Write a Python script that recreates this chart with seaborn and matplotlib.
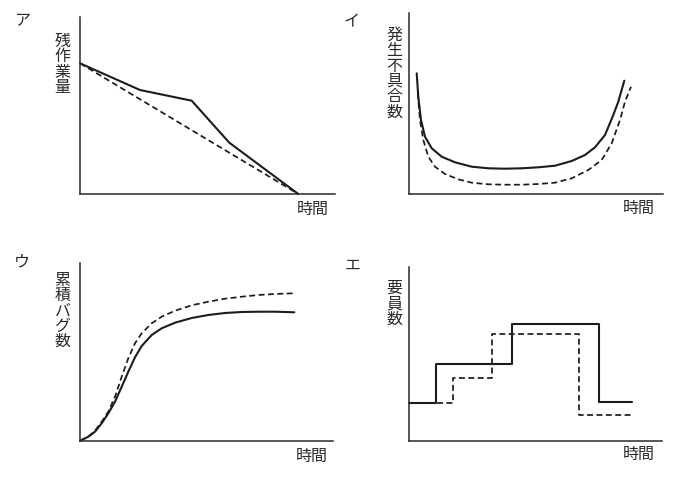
import matplotlib
matplotlib.use("Agg")
import matplotlib.pyplot as plt
import seaborn as sns

sns.set_theme(style="white")
plt.rcParams['font.family'] = ['Noto Sans CJK JP', 'DejaVu Sans']

# ---------------- data (arbitrary units) ----------------
# ア 残作業量
a_x_actual = [0, 60, 111.7, 149.3, 218.3]
a_y_actual = [130.7, 104, 93.3, 51.3, 0]
a_x_plan = [0, 218.3]
a_y_plan = [130.7, 0]

# イ 発生不具合数
b_x_solid = [7.7, 9.3, 12, 16, 22.7, 32.7, 46, 62.7, 79.3, 96, 112.7, 129.3,
             146, 162.7, 176, 186, 196, 204.3, 209.3, 215.3]
b_y_solid = [120.7, 97.3, 74, 57.3, 45.7, 37.3, 31.7, 27.3, 25.7, 25.3, 25.7,
             26.7, 28.3, 33, 39, 46.7, 59, 79, 92.3, 113.3]
b_x_dash = [8.7, 11, 14.3, 19.3, 26, 36, 49.3, 62.7, 79.3, 96, 112.7, 129.3,
            146, 162.7, 179.3, 192.7, 202.7, 211, 216, 222]
b_y_dash = [100.7, 74, 54, 37.3, 27.3, 20, 14.7, 11.3, 9.7, 9.3, 9.3, 10,
            11.3, 15.7, 24, 34, 50.7, 74, 92.3, 107.3]

# ウ 累積バグ数
c_x = [0, 1.7, 8.3, 15, 21.7, 28.3, 35, 41.7, 48.3, 55, 61.7, 71.7, 81.7, 95,
       111.7, 128.3, 145, 161.7, 178.3, 195, 214.3]
c_y_solid = [0, 1, 4.3, 9.3, 17.7, 27.7, 39.3, 54.3, 69.3, 83.7, 95, 106, 112.7,
             118.3, 123, 126, 128, 129, 129.3, 129.3, 128.7]
c_y_dash = [0, 1, 4.3, 10.3, 19.3, 29.3, 44.3, 64.3, 82.7, 97.7, 107.7, 117.7,
            124.3, 130.3, 135.7, 139.3, 142.3, 144.3, 146, 147, 147.7]

# エ 要員数 (step breakpoints)
d_x_solid = [0, 27, 103, 190, 223]
d_y_solid = [38.3, 77, 116.7, 39.3, 39.3]
d_x_dash = [0, 44, 83, 170, 223]
d_y_dash = [38.3, 63.3, 107.3, 26, 26]

panel_marks = ["ア", "イ", "ウ", "エ"]
y_labels = ["残作業量", "発生不具合数", "累積バグ数", "要員数"]
x_label = "時間"

# ---------------- layout ----------------
W, H = 685, 478
fig = plt.figure(figsize=(W / 100, H / 100), dpi=100)
fig.patch.set_facecolor("white")

# axes boxes in pixels: (x0, x1, ytop, ybot)
boxes = [(80, 335, 17, 194), (409, 663, 13, 194),
         (80, 333, 263, 441), (409, 662, 267, 441)]
axes = []
for (x0, x1, yt, yb) in boxes:
    ax = fig.add_axes([x0 / W, (H - yb) / H, (x1 - x0) / W, (yb - yt) / H])
    ax.set_xlim(0, x1 - x0)
    ax.set_ylim(0, yb - yt)
    ax.set_xticks([])
    ax.set_yticks([])
    for s in ["top", "right"]:
        ax.spines[s].set_visible(False)
    for s in ["left", "bottom"]:
        ax.spines[s].set_color("#2a2a2a")
        ax.spines[s].set_linewidth(1.1)
    ax.set_facecolor("white")
    axes.append(ax)

LC = "#1c1c1c"
solid_kw = dict(color=LC, linewidth=1.5, estimator=None, sort=False, clip_on=False)
dash_kw = dict(color=LC, linewidth=1.25, linestyle=(0, (3.4, 2.0)),
               estimator=None, sort=False, clip_on=False)

sns.lineplot(x=a_x_plan, y=a_y_plan, ax=axes[0], **dash_kw)
sns.lineplot(x=a_x_actual, y=a_y_actual, ax=axes[0], **solid_kw)

sns.lineplot(x=b_x_dash, y=b_y_dash, ax=axes[1], **dash_kw)
sns.lineplot(x=b_x_solid, y=b_y_solid, ax=axes[1], **solid_kw)

sns.lineplot(x=c_x, y=c_y_dash, ax=axes[2], **dash_kw)
sns.lineplot(x=c_x, y=c_y_solid, ax=axes[2], **solid_kw)

sns.lineplot(x=d_x_dash, y=d_y_dash, ax=axes[3], drawstyle="steps-post", **dash_kw)
sns.lineplot(x=d_x_solid, y=d_y_solid, ax=axes[3], drawstyle="steps-post", **solid_kw)

for ax in axes:
    if ax.get_legend():
        ax.get_legend().remove()
    ax.set_xlabel("")
    ax.set_ylabel("")

TC = "#2a2a2a"


def ptext(px, py, s, size=11, va="center", **kw):
    return fig.text(px / W, 1 - py / H, s, fontsize=size, color=TC,
                    ha="center", va=va, **kw)


# panel marks
mark_pos = [(22, 21), (352, 22), (22, 262), (353, 265)]
for (px, py), m in zip(mark_pos, panel_marks):
    ptext(px, py, m, size=11.5)

# vertical y labels (one character per line, single text object)
ylab_pos = [(62.5, 33), (394.5, 27), (62.5, 272), (394.5, 280)]
for (px, py), lab in zip(ylab_pos, y_labels):
    ptext(px, py, "\n".join(lab), size=11.5, va="top", linespacing=0.87,
          multialignment="center")

# x labels
xlab_pos = [(313, 209), (639, 208), (312, 456), (639, 454)]
for (px, py) in xlab_pos:
    ptext(px, py, x_label, size=11.5)

fig.savefig("out.png", dpi=100, facecolor="white")
